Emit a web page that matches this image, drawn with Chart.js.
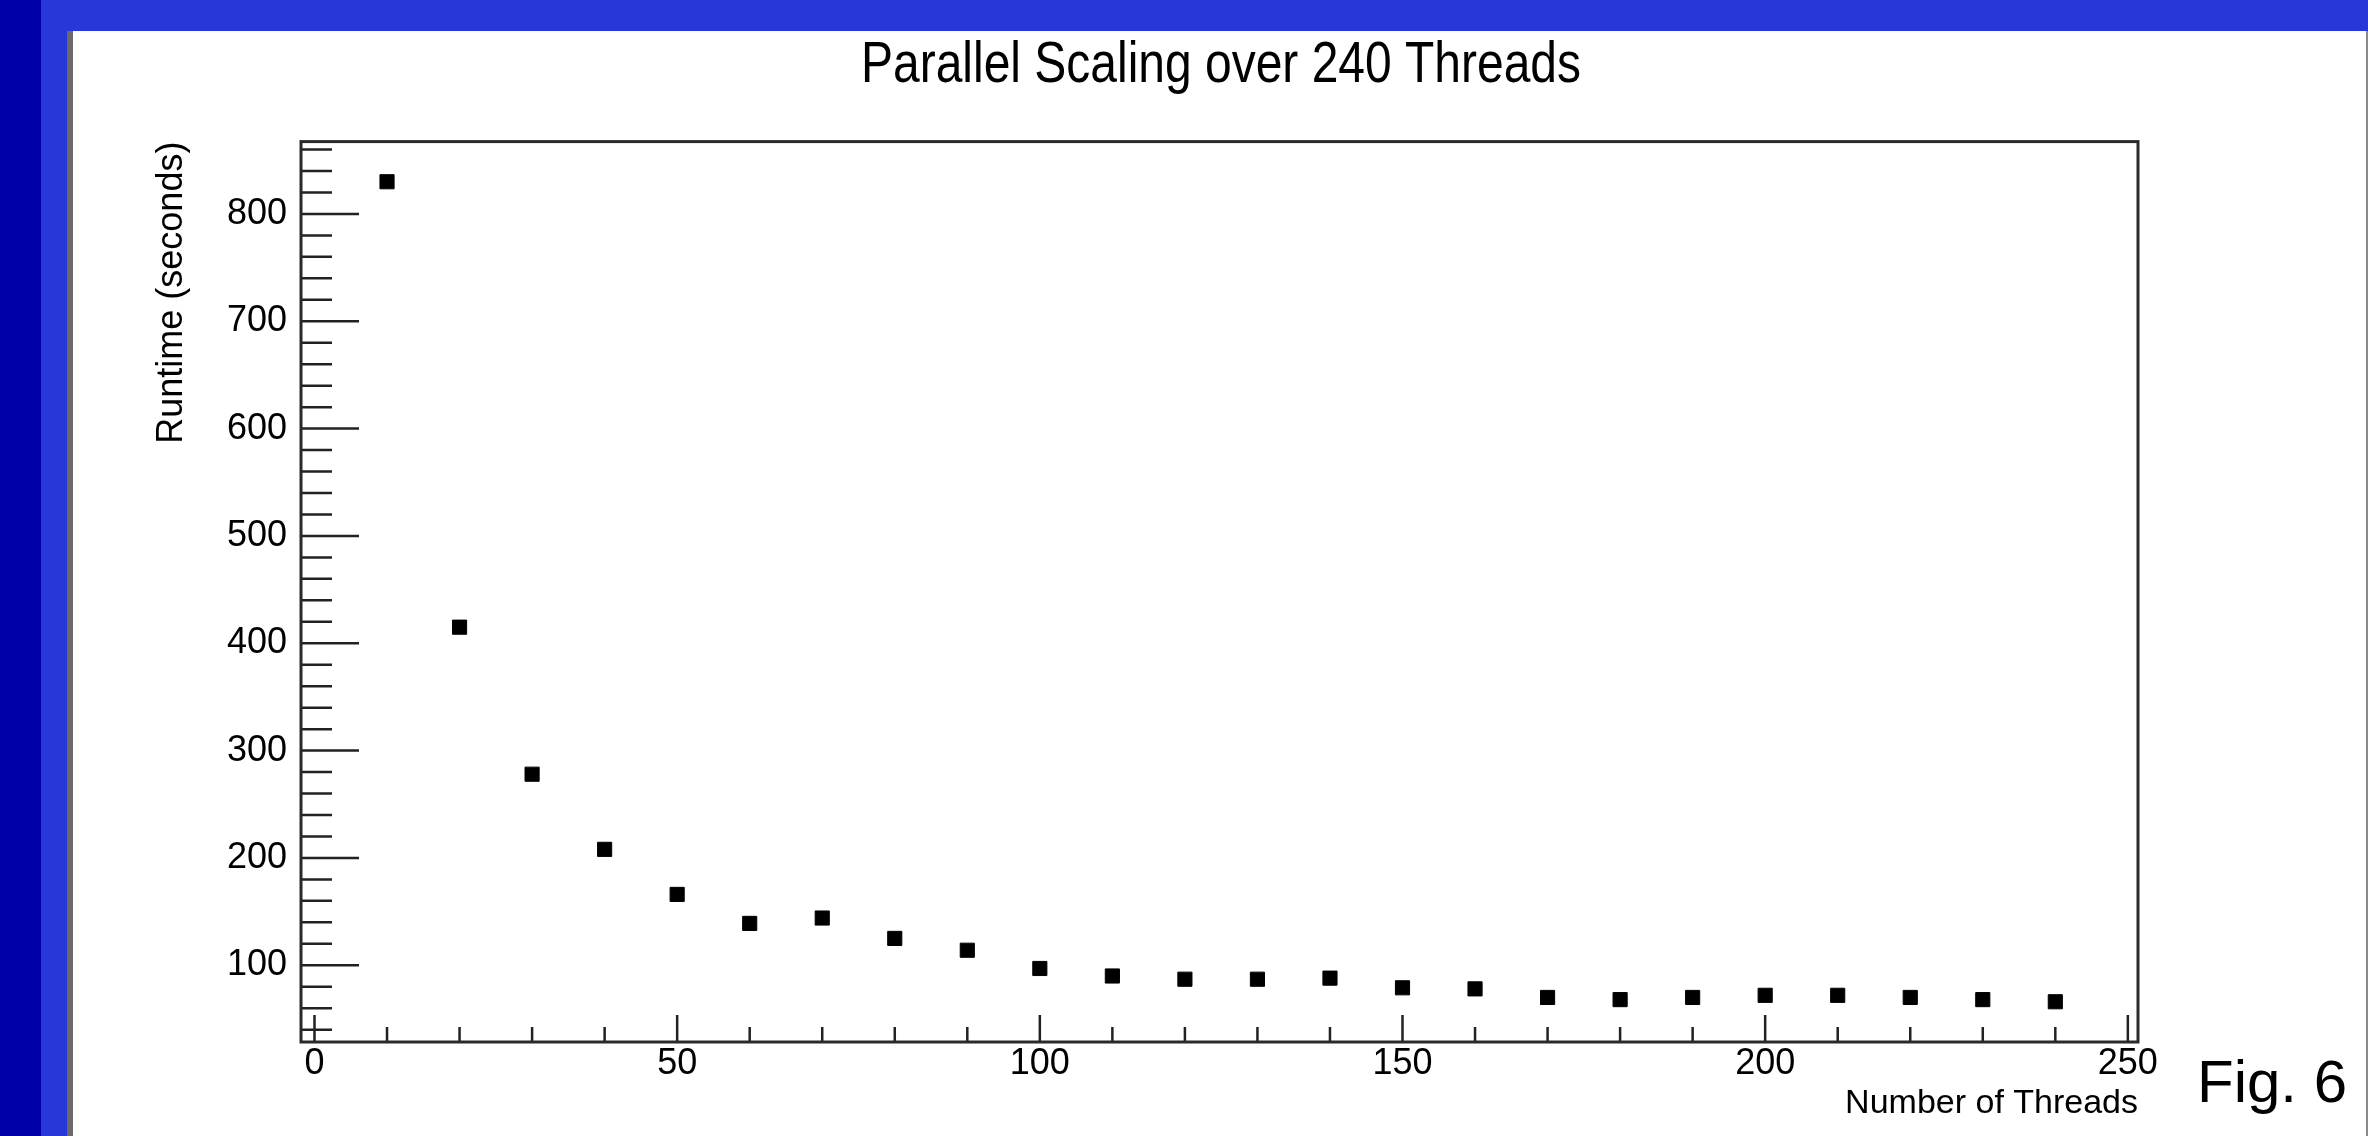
<!DOCTYPE html>
<html>
<head>
<meta charset="utf-8">
<script src="https://cdn.jsdelivr.net/npm/chart.js@4.4.1/dist/chart.umd.min.js"></script>
<style>
  html, body { margin: 0; padding: 0; }
  body { width: 2368px; height: 1136px; background: #2838d8; position: relative; overflow: hidden; }
  #strip { position: absolute; left: 0; top: 0; width: 41px; height: 1136px; background: #0000a8; }
  #panel { position: absolute; left: 67px; top: 31px; width: 2293px; height: 1105px; background: #fff;
           border-left: 6px solid #6a6a6a; border-right: 2px solid #8a8a8a; }
  #myChart { position: absolute; left: 73px; top: 31px; }
  #fig { position: absolute; left: 2197px; top: 1052px; font: 60px "Liberation Sans", Arial, sans-serif; line-height: 60px; color: #000; }
</style>
</head>
<body>
<div id="strip"></div>
<div id="panel"></div>
<canvas id="myChart" width="2293" height="1105"></canvas>
<div id="fig">Fig. 6</div>
<script>
// 数据
var threads = [10, 20, 30, 40, 50, 60, 70, 80, 90, 100, 110, 120, 130, 140, 150, 160, 170, 180, 190, 200, 210, 220, 230, 240];
var runtime = [830, 415, 278, 208, 166, 139, 144, 125, 114, 97, 90, 87, 87, 88, 79, 78, 70, 68, 70, 72, 72, 70, 68, 66];
var xTickLabels = [0, 50, 100, 150, 200, 250];
var yTickLabels = [100, 200, 300, 400, 500, 600, 700, 800];

var fontFamily = "'Liberation Sans', Arial, sans-serif";

// 内侧刻度 + 边框 (ROOT 风格), 标题压窄
var frameTicks = {
    id: 'frameTicks',
    afterLayout: function (chart) {
        // 标题框收窄 -> fillText 的 maxWidth 把字压窄
        var tb = chart.titleBlock;
        if (tb) {
            tb.left = 788;
            tb.right = 1508;
            tb.width = 720;
        }
    },
    beforeDatasetsDraw: function (chart) {
        var ctx = chart.ctx;
        var a = chart.chartArea;
        var xs = chart.scales.x, ys = chart.scales.y;
        ctx.save();
        ctx.strokeStyle = '#222';
        ctx.lineWidth = 2.5;
        ctx.beginPath();
        for (var v = 40; v <= 860; v += 20) {
            var y = ys.getPixelForValue(v);
            var len = (v % 100 === 0) ? 58 : 31;
            ctx.moveTo(a.left, y);
            ctx.lineTo(a.left + len, y);
        }
        for (var t = 0; t <= 250; t += 10) {
            var x = xs.getPixelForValue(t);
            var l = (t % 50 === 0) ? 27 : 15;
            ctx.moveTo(x, a.bottom);
            ctx.lineTo(x, a.bottom - l);
        }
        ctx.stroke();
        ctx.lineWidth = 3;
        ctx.strokeStyle = '#2a2a2a';
        ctx.strokeRect(a.left, a.top, a.right - a.left, a.bottom - a.top);
        ctx.restore();
    }
};

var points = [];
for (var i = 0; i < threads.length; i++) {
    points.push({x: threads[i], y: runtime[i]});
}

var ctx = document.getElementById("myChart").getContext("2d");
var myChart = new Chart(ctx, {
    type: 'scatter',
    data: {
        datasets: [{
            data: points,
            pointStyle: 'rect',
            pointRadius: 10,
            pointHoverRadius: 10,
            backgroundColor: '#000',
            borderColor: '#000',
            borderWidth: 1
        }]
    },
    options: {
        responsive: false,
        animation: false,
        events: [],
        layout: {padding: {left: 0, right: 228, top: 0, bottom: 0}},
        plugins: {
            legend: {display: false},
            tooltip: {enabled: false},
            title: {
                display: true,
                text: 'Parallel Scaling over 240 Threads',
                color: '#000',
                font: {family: fontFamily, size: 58, weight: 'normal'},
                padding: {top: 0, bottom: 41}
            }
        },
        scales: {
            x: {
                type: 'linear',
                min: -1.86,
                max: 251.4,
                grid: {display: false, drawTicks: false},
                border: {display: false},
                afterBuildTicks: function (s) {
                    s.ticks = xTickLabels.map(function (v) { return {value: v}; });
                },
                afterFit: function (s) { s.height = 94; },
                ticks: {
                    color: '#000',
                    padding: 0,
                    maxRotation: 0,
                    autoSkip: false,
                    font: {family: fontFamily, size: 36}
                },
                title: {
                    display: true,
                    text: 'Number of Threads',
                    align: 'end',
                    color: '#000',
                    font: {family: fontFamily, size: 34},
                    padding: {top: 0, bottom: 12}
                }
            },
            y: {
                type: 'linear',
                min: 28.5,
                max: 867.4,
                grid: {display: false, drawTicks: false},
                border: {display: false},
                afterBuildTicks: function (s) {
                    s.ticks = yTickLabels.map(function (v) { return {value: v}; });
                },
                afterFit: function (s) { s.width = 228; },
                ticks: {
                    color: '#000',
                    padding: 14,
                    autoSkip: false,
                    font: {family: fontFamily, size: 36}
                },
                title: {
                    display: true,
                    text: 'Runtime (seconds)',
                    align: 'end',
                    color: '#000',
                    font: {family: fontFamily, size: 36},
                    padding: {top: 77, bottom: 0}
                }
            }
        }
    },
    plugins: [frameTicks]
});
</script>
</body>
</html>
